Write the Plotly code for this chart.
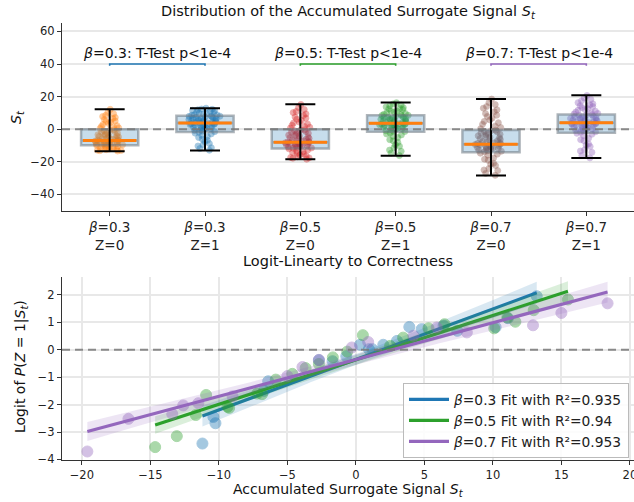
import numpy as np
import plotly.graph_objects as go

# ---------------- data: top panel ----------------
group_labels = ["<i>β</i>=0.3<br>Z=0", "<i>β</i>=0.3<br>Z=1", "<i>β</i>=0.5<br>Z=0",
                "<i>β</i>=0.5<br>Z=1", "<i>β</i>=0.7<br>Z=0", "<i>β</i>=0.7<br>Z=1"]
group_pos = [0, 1, 2, 3, 4, 5]
group_colors = ["#ff7f0e", "#1f77b4", "#d62728", "#2ca02c", "#8c564b", "#9467bd"]

box_q1 = [-9.8, -1.7, -11.9, -1.6, -14.1, -2.1]
box_median = [-6.9, 3.8, -8.0, 3.7, -9.2, 3.9]
box_q3 = [0.0, 8.2, 0.0, 8.6, -0.5, 9.0]
whisker_lo = [-13.5, -13.0, -18.4, -16.3, -28.4, -17.7]
whisker_hi = [12.3, 12.9, 15.3, 16.4, 18.6, 20.8]

pts_b03_z0 = [-13.4, -13.2, -12.9, -12.4, -12.2, -11.6, -11.3, -10.7, -10.4, -9.9,
              -9.6, -9.4, -9.0, -8.7, -8.6, -8.1, -7.9, -7.5, -7.3, -7.0,
              -6.7, -6.2, -5.4, -4.8, -3.9, -3.4, -2.4, -1.9, -0.9, -0.3,
              0.5, 1.1, 2.2, 2.9, 4.3, 5.1, 6.6, 7.8, 9.5, 12.2,
              -9.5, -9.1, -8.8, -8.4, -8.0, -7.7, -7.2, -6.5, -5.9, -5.1,
              -4.4, -3.7, -3.0, -2.2, -1.5, -0.7, -11.9, -12.6, -10.9, -13.0,
              0.8, 1.7, 3.5, 4.7, 6.0, 7.2, 8.5, 10.3, -6.0, -4.1]
pts_b03_z1 = [-12.9, -11.4, -10.3, -8.8, -7.6, -6.1, -5.1, -3.8, -2.9, -1.8,
              -1.2, -0.7, 0.2, 0.7, 1.5, 1.9, 2.7, 3.0, 3.5, 3.8,
              4.2, 4.5, 5.2, 5.5, 6.1, 6.4, 7.0, 7.3, 7.9, 8.1,
              8.6, 8.9, 9.6, 9.9, 10.6, 10.9, 11.6, 11.9, 12.4, 12.9,
              -1.5, -0.4, 0.4, 1.0, 1.8, 2.3, 2.9, 3.3, 4.0, 4.8,
              5.4, 5.9, 6.7, 7.1, 7.7, 8.0, -4.5, -6.8, -9.6, -11.9,
              8.8, 9.3, 10.2, 11.3, 12.2, 1.2, 3.6, 6.3, -2.4, 5.0]
pts_b05_z0 = [-18.4, -17.8, -17.3, -16.4, -15.8, -14.8, -14.2, -13.3, -12.8, -12.0,
              -11.7, -11.1, -10.9, -10.3, -10.1, -9.5, -9.3, -8.7, -8.5, -8.0,
              -7.6, -7.0, -5.9, -5.2, -4.2, -3.6, -2.5, -1.9, -0.9, -0.3,
              0.7, 1.7, 3.2, 4.4, 6.1, 7.5, 9.4, 10.9, 13.2, 15.2,
              -11.5, -10.6, -10.0, -9.8, -9.0, -8.3, -7.8, -7.2, -6.5, -5.6,
              -4.7, -3.9, -3.1, -2.2, -1.4, -0.6, -13.8, -15.2, -16.9, -17.6,
              1.2, 2.4, 3.8, 5.3, 6.8, 8.4, 10.2, 12.1, -8.9, -6.2]
pts_b05_z1 = [-16.2, -14.7, -12.8, -11.3, -9.5, -8.1, -6.4, -5.1, -3.5, -2.3,
              -1.3, -0.9, 0.0, 0.5, 1.3, 1.7, 2.4, 2.7, 3.3, 3.6,
              4.0, 4.3, 5.0, 5.4, 6.1, 6.5, 7.2, 7.5, 8.2, 8.5,
              9.2, 9.7, 10.6, 11.2, 12.1, 12.7, 13.7, 14.4, 15.5, 16.3,
              -1.4, -0.5, 0.3, 1.0, 1.6, 2.1, 2.9, 3.4, 4.1, 4.7,
              5.3, 5.9, 6.8, 7.3, 7.9, 8.4, -4.3, -7.2, -10.4, -13.5,
              9.0, 10.1, 11.0, 12.4, 13.2, 14.9, 3.0, 6.3, -2.9, 1.9]
pts_b07_z0 = [-28.3, -27.1, -25.4, -24.1, -22.3, -20.9, -19.1, -17.7, -15.9, -14.7,
              -13.5, -13.2, -12.5, -12.2, -11.5, -11.2, -10.5, -10.2, -9.5, -9.2,
              -8.7, -8.1, -7.0, -6.3, -5.2, -4.5, -3.4, -2.7, -1.6, -0.9,
              0.3, 1.9, 4.0, 5.7, 7.8, 9.6, 11.9, 13.9, 16.4, 18.5,
              -13.9, -12.9, -11.9, -10.9, -9.9, -9.4, -8.5, -7.6, -6.7, -5.8,
              -4.9, -4.0, -3.1, -2.2, -1.3, -0.6, -15.3, -18.4, -21.5, -25.0,
              1.0, 3.0, 4.8, 6.8, 8.6, 10.7, 12.9, 15.1, -11.4, -8.3]
pts_b07_z1 = [-17.6, -16.1, -14.2, -12.6, -10.6, -9.0, -7.1, -5.6, -3.8, -2.5,
              -1.6, -1.1, -0.2, 0.3, 1.1, 1.5, 2.3, 2.7, 3.4, 3.7,
              4.2, 4.5, 5.3, 5.6, 6.4, 6.7, 7.5, 7.8, 8.6, 8.9,
              9.7, 10.5, 11.7, 12.6, 13.9, 14.9, 16.3, 17.4, 19.2, 20.7,
              -1.9, -0.7, 0.1, 0.7, 1.3, 2.0, 2.5, 3.1, 3.5, 4.4,
              5.0, 5.5, 6.1, 7.1, 7.7, 8.8, -3.1, -6.4, -9.8, -13.4,
              9.3, 10.1, 11.1, 12.1, 13.3, 14.4, 15.6, 18.3, 4.0, 6.6]
group_points = [pts_b03_z0, pts_b03_z1, pts_b05_z0, pts_b05_z1, pts_b07_z0, pts_b07_z1]

ttest_labels = ["<i>β</i>=0.3: T-Test p<1e-4", "<i>β</i>=0.5: T-Test p<1e-4",
                "<i>β</i>=0.7: T-Test p<1e-4"]
ttest_pairs = [(0, 1), (2, 3), (4, 5)]
ttest_colors = ["#1f77b4", "#2ca02c", "#9467bd"]

# ---------------- data: bottom panel ----------------
fit_names = ["<i>β</i>=0.3 Fit with R²=0.935", "<i>β</i>=0.5 Fit with R²=0.94",
             "<i>β</i>=0.7 Fit with R²=0.953"]
fit_colors = ["#1f77b4", "#2ca02c", "#9467bd"]

s_b03 = [-11.2, -10.4, -10.25, -6.7, -6.4, -2.7, -1.7, -0.7, 0.3, 0.95,
         1.2, 2.0, 3.0, 3.9, 4.8, 6.4, 7.4, 10.2, 11.1, 13.2]
logit_b03 = [-3.42, -2.45, -2.68, -1.5, -1.15, -0.38, -0.42, -0.24, 0.18, 0.02,
             0.02, 0.18, 0.32, 0.83, 0.75, 0.88, 0.69, 0.82, 1.15, 1.95]
s_b05 = [-14.65, -13.07, -11.68, -10.93, -9.37, -9.25, -7.2, -6.85, -5.85, -4.64,
         -3.67, -2.7, -1.68, -0.63, 0.51, 2.5, 3.45, 5.3, 6.47, 10.1,
         11.05, 11.64, 12.98, 15.48]
logit_b05 = [-3.55, -3.15, -2.38, -1.65, -2.08, -2.12, -1.6, -1.62, -1.09, -0.88,
             -0.67, -0.52, -0.28, -0.07, 0.53, 0.14, 0.44, 0.78, 0.93, 0.78,
             1.17, 1.02, 1.44, 1.83]
s_b07 = [-19.6, -16.6, -13.4, -12.6, -11.5, -9.0, -5.0, -3.9, -2.7, -0.3,
         0.9, 4.2, 5.9, 8.1, 12.93, 15.0, 18.37]
logit_b07 = [-3.71, -2.52, -2.35, -2.03, -1.95, -1.7, -0.96, -0.63, -0.37, 0.08,
             0.28, 0.51, 0.81, 0.63, 0.89, 1.34, 1.69]
fit_x = [s_b03, s_b05, s_b07]
fit_y = [logit_b03, logit_b05, logit_b07]

# ---------------- figure ----------------
FONT = "DejaVu Sans"
fig = go.Figure()

# jittered points
for pos, pts, col in zip(group_pos, group_points, group_colors):
    fig.add_trace(go.Box(
        x=[pos] * len(pts), y=pts, boxpoints="all", jitter=0.6, pointpos=0,
        width=0.6, fillcolor="rgba(0,0,0,0)",
        line=dict(width=0, color="rgba(0,0,0,0)"),
        marker=dict(color=col, size=6, opacity=0.4, line=dict(width=0.8, color=col)),
        showlegend=False, hoverinfo="skip", xaxis="x", yaxis="y"))

# boxes
fig.add_trace(go.Box(
    x=group_pos, q1=box_q1, median=box_median, q3=box_q3,
    lowerfence=box_q1, upperfence=box_q3, width=0.6, whiskerwidth=0,
    fillcolor="rgba(31,119,180,0.25)",
    line=dict(color="rgba(110,120,130,0.55)", width=2.5),
    showlegend=False, hoverinfo="skip", xaxis="x", yaxis="y"))
# medians
fig.add_trace(go.Box(
    x=group_pos, q1=box_median, median=box_median, q3=box_median,
    lowerfence=box_median, upperfence=box_median, width=0.56, whiskerwidth=0,
    fillcolor="rgba(0,0,0,0)", line=dict(color="#ff7f0e", width=3),
    showlegend=False, hoverinfo="skip", xaxis="x", yaxis="y"))
# whiskers with caps
mid = [(lo + hi) / 2 for lo, hi in zip(whisker_lo, whisker_hi)]
fig.add_trace(go.Scatter(
    x=group_pos, y=mid, mode="markers", marker=dict(size=1, opacity=0),
    error_y=dict(type="data", symmetric=False,
                 array=[hi - m for hi, m in zip(whisker_hi, mid)],
                 arrayminus=[m - lo for lo, m in zip(whisker_lo, mid)],
                 color="black", thickness=2, width=15),
    showlegend=False, hoverinfo="skip", xaxis="x", yaxis="y"))

# t-test brackets
for (a, b), col, lab in zip(ttest_pairs, ttest_colors, ttest_labels):
    xa, xb = group_pos[a], group_pos[b]
    fig.add_trace(go.Scatter(
        x=[xa, xa, xb, xb], y=[39.0, 40, 40, 39.0], mode="lines",
        line=dict(color=col, width=1.6), showlegend=False, hoverinfo="skip",
        xaxis="x", yaxis="y"))
    fig.add_annotation(x=(xa + xb) / 2, y=47, xref="x", yref="y", text=lab,
                       showarrow=False, xanchor="center", yanchor="middle",
                       font=dict(family=FONT, size=14, color="#111"))

# bottom panel: scatter, band, fit line
for xs, ys, col, name in zip(fit_x, fit_y, fit_colors, fit_names):
    xs_a = np.array(xs)
    ys_a = np.array(ys)
    fig.add_trace(go.Scatter(
        x=xs, y=ys, mode="markers",
        marker=dict(color=col, size=11, opacity=0.4, line=dict(width=1, color=col)),
        showlegend=False, hoverinfo="skip", xaxis="x2", yaxis="y2"))
    slope, icpt = np.polyfit(xs_a, ys_a, 1)
    xg = np.linspace(xs_a.min(), xs_a.max(), 100)
    yg = slope * xg + icpt
    n = len(xs_a)
    resid = ys_a - (slope * xs_a + icpt)
    s = np.sqrt(np.sum(resid ** 2) / (n - 2))
    sxx = np.sum((xs_a - xs_a.mean()) ** 2)
    se = s * np.sqrt(1.0 / n + (xg - xs_a.mean()) ** 2 / sxx)
    hw = 2.05 * se
    r, g, b = int(col[1:3], 16), int(col[3:5], 16), int(col[5:7], 16)
    fig.add_trace(go.Scatter(
        x=np.concatenate([xg, xg[::-1]]), y=np.concatenate([yg + hw, (yg - hw)[::-1]]),
        mode="lines", fill="toself", fillcolor=f"rgba({r},{g},{b},0.17)",
        line=dict(width=0), showlegend=False, hoverinfo="skip",
        xaxis="x2", yaxis="y2"))
    fig.add_trace(go.Scatter(
        x=xg, y=yg, mode="lines", line=dict(color=col, width=3.2), name=name,
        hoverinfo="skip", xaxis="x2", yaxis="y2"))

# dashed zero lines
for yref in ["y", "y2"]:
    xr = "x domain" if yref == "y" else "x2 domain"
    fig.add_shape(type="line", xref=xr, x0=0, x1=1, yref=yref, y0=0, y1=0,
                  line=dict(color="rgba(120,120,120,0.85)", width=2, dash="8px,5px"),
                  layer="above")

axis_common = dict(showline=True, linecolor="#333", linewidth=1.3, ticks="outside",
                   ticklen=4, tickcolor="#333", tickwidth=1.2, zeroline=False,
                   gridcolor="#e8e8e8", gridwidth=1.6, automargin=False,
                   ticklabeloverflow="allow",
                   tickfont=dict(family=FONT, size=11.5, color="#222"))
axis_top_x = {k: v for k, v in axis_common.items() if k != "tickfont"}

# page body margin is removed below, so layout is in page pixels
W, H = 634, 502
ml = 62
mt = 23
mb = H - 460
ph = H - mt - mb
pw = W - ml


def py_to_paper(py):
    return (H - mb - py) / ph


def px_to_paper(px):
    return (px - ml) / pw


fig.update_layout(
    width=W, height=H, plot_bgcolor="white", paper_bgcolor="white",
    margin=dict(l=ml, r=0, t=mt, b=mb, autoexpand=False),
    font=dict(family=FONT, color="#222"),
    boxmode="overlay",
    xaxis=dict(domain=[0, 1], anchor="y", range=[-0.5, 5.5], tickvals=group_pos,
               ticktext=group_labels, showgrid=False, **axis_top_x,
               tickfont=dict(family=FONT, size=13.5, color="#222")),
    yaxis=dict(domain=[py_to_paper(210.7), py_to_paper(23.3)], anchor="x", range=[-50, 65],
               tickvals=[-40, -20, 0, 20, 40, 60], showgrid=True, **axis_common),
    xaxis2=dict(domain=[0, 1], anchor="y2", range=[-21.45, 20.3], dtick=5, tick0=0,
                showgrid=True, **axis_common),
    yaxis2=dict(domain=[py_to_paper(460), py_to_paper(277)], anchor="x2",
                range=[-4.02, 2.65], dtick=1, tick0=0, showgrid=True, **axis_common),
    legend=dict(x=px_to_paper(629), y=py_to_paper(458), xanchor="right", yanchor="bottom",
                bgcolor="rgba(255,255,255,0.85)", bordercolor="#bbb", borderwidth=1,
                font=dict(family=FONT, size=13.8, color="#222"), itemwidth=40,
                tracegroupgap=2),
    showlegend=True,
)

ann_common = dict(xref="paper", yref="paper", showarrow=False,
                  xanchor="center", yanchor="middle")
fig.add_annotation(x=px_to_paper(348), y=py_to_paper(12),
                   text="Distribution of the Accumulated Surrogate Signal <i>S</i><sub><i>t</i></sub>",
                   font=dict(family=FONT, size=14.5, color="#111"), **ann_common)
fig.add_annotation(x=px_to_paper(348), y=py_to_paper(261),
                   text="Logit-Linearty to Correctness",
                   font=dict(family=FONT, size=14.5, color="#111"), **ann_common)
fig.add_annotation(x=px_to_paper(348), y=py_to_paper(490),
                   text="Accumulated Surrogate Signal <i>S</i><sub><i>t</i></sub>",
                   font=dict(family=FONT, size=14, color="#111"), **ann_common)
fig.add_annotation(x=px_to_paper(17), y=py_to_paper(117),
                   text="<i>S</i><sub><i>t</i></sub>", textangle=-90,
                   font=dict(family=FONT, size=14, color="#111"), **ann_common)
fig.add_annotation(x=px_to_paper(21), y=py_to_paper(367),
                   text="Logit of <i>P</i>(<i>Z</i> = 1|<i>S</i><sub><i>t</i></sub>)",
                   textangle=-90,
                   font=dict(family=FONT, size=14, color="#111"), **ann_common)

fig.write_html(
    "out.html",
    config={"displayModeBar": False},
    post_script="document.body.style.margin='0px';document.body.style.overflow='hidden';",
)
